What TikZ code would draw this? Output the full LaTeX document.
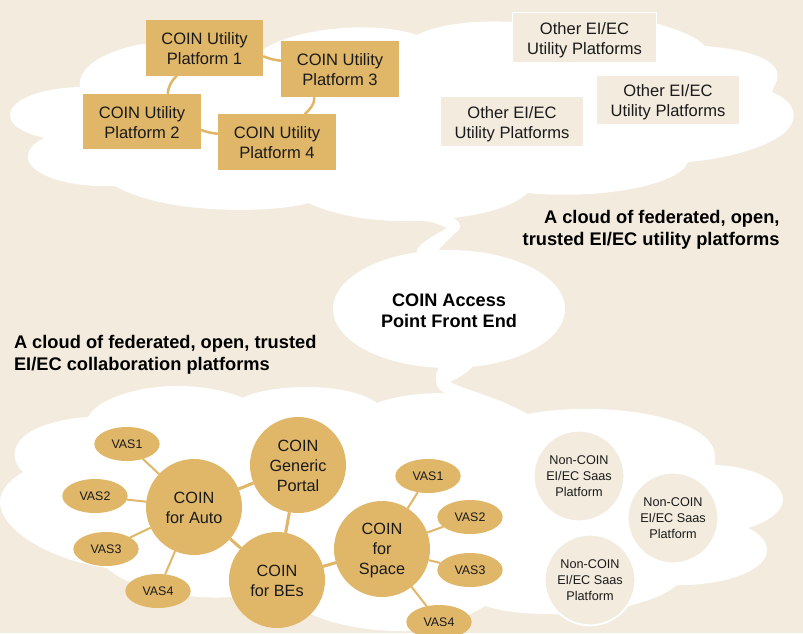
\documentclass[tikz,border=0pt]{standalone}
\usepackage{fontspec}
\setmainfont{Liberation Sans}
\usetikzlibrary{shapes.geometric}
\definecolor{bgbeige}{HTML}{F3ECDE}
\definecolor{gold}{HTML}{E0B768}
\definecolor{ink}{HTML}{1A1A1A}
\newcommand{\lowerA}{\rule{0pt}{.85em}}
\newcommand{\lowerB}{\rule{0pt}{1.02em}}
\tikzset{
  every node/.style={inner sep=0pt,outer sep=0pt,text=ink,align=center},
  coinbox/.style={rectangle,fill=gold,minimum width=88pt,minimum height=41.5pt,font=\fontsize{12.4}{15}\selectfont},
  otherbox/.style={rectangle,fill=bgbeige,draw=white,line width=1.4pt,minimum width=108pt,minimum height=37.5pt,font=\fontsize{12.4}{15}\selectfont},
  hub/.style={circle,fill=gold,minimum size=72pt,font=\fontsize{12.2}{15}\selectfont},
  vas/.style={ellipse,fill=gold,minimum width=49pt,minimum height=25.5pt,font=\fontsize{9.3}{11}\selectfont},
  saas/.style={circle,fill=bgbeige,draw=white,line width=1.4pt,minimum size=68pt,font=\fontsize{9.5}{12}\selectfont},
  heading/.style={font=\fontsize{13.7}{16.5}\selectfont\bfseries,text=black},
  thinlink/.style={draw=gold,line width=1.5pt},
  hublink/.style={draw=gold,line width=2.3pt},
  boxlink/.style={draw=gold,line width=1.9pt}
}
\begin{document}
\begin{tikzpicture}[x=0.75pt,y=-0.75pt]
\fill[bgbeige] (0,0) rectangle (803,633);
\useasboundingbox (0,0) rectangle (803,633);
% upper cloud with its tail
\fill[white] (80,87) .. controls (76,66) and (110,48) .. (150,43) -- (263,50)
 .. controls (285,32) and (365,18) .. (417,35)
 .. controls (440,23) and (480,20) .. (515,22) -- (655,23)
 .. controls (680,30) and (698,38) .. (705,46)
 .. controls (755,50) and (782,62) .. (777,80) -- (772,92)
 .. controls (790,100) and (796,110) .. (793,120)
 .. controls (788,142) and (735,158) .. (688,162)
 .. controls (680,185) and (600,200) .. (528,193)
 .. controls (510,208) and (485,214) .. (453,218)
 .. controls (462,222) and (462,230) .. (455,233) -- (433,255) -- (417,255) -- (417,250)
 .. controls (420,243) and (430,238) .. (447,228)
 .. controls (435,222) and (425,220) .. (413,221)
 .. controls (370,222) and (335,215) .. (308,203)
 .. controls (280,212) and (170,217) .. (115,186)
 .. controls (70,188) and (28,175) .. (28,157)
 .. controls (28,148) and (36,142) .. (44,138)
 .. controls (20,132) and (10,124) .. (10,115)
 .. controls (10,100) and (40,88) .. (80,87) -- cycle;
% lower cloud with its tail
\fill[white] (377,403) .. controls (395,396) and (420,393) .. (445,393)
 .. controls (435,390) and (433,375) .. (440,366) -- (473,366)
 .. controls (468,372) and (460,377) .. (450,382)
 .. controls (462,388) and (480,393) .. (492,398)
 .. controls (505,402) and (518,409) .. (528,414)
 .. controls (600,400) and (712,415) .. (715,455) -- (715,465)
 .. controls (750,466) and (783,480) .. (783,500)
 .. controls (783,512) and (765,523) .. (748,528)
 .. controls (760,533) and (767,542) .. (767,550)
 .. controls (767,572) and (720,586) .. (677,585)
 .. controls (665,595) and (650,600) .. (632,605)
 .. controls (605,614) and (575,616) .. (550,614)
 .. controls (525,614) and (505,612) .. (485,606)
 .. controls (470,615) and (440,632) .. (400,631)
 .. controls (370,631) and (335,625) .. (313,615) -- (230,597)
 .. controls (190,600) and (130,590) .. (107,568)
 .. controls (50,560) and (0,530) .. (0,502)
 .. controls (0,490) and (10,480) .. (23,472)
 .. controls (12,462) and (14,450) .. (17,445)
 .. controls (25,430) and (50,420) .. (88,417)
 .. controls (100,395) and (150,385) .. (180,386)
 .. controls (205,386) and (230,392) .. (243,398)
 .. controls (265,385) and (345,380) .. (377,403) -- cycle;
% access point
\node[ellipse,fill=white,minimum width=174pt,minimum height=88.5pt,font=\fontsize{13.6}{15.8}\selectfont\bfseries,text=black] (access) at (449,309) {\lowerA COIN Access\\Point Front End};
% utility platforms
\node[coinbox] (p1) at (204.5,48) {\lowerA COIN Utility\\Platform 1};
\node[coinbox] (p3) at (340,69) {\lowerA COIN Utility\\Platform 3};
\node[coinbox] (p2) at (142,121.5) {\lowerA COIN Utility\\Platform 2};
\node[coinbox] (p4) at (277,142) {\lowerA COIN Utility\\Platform 4};
\draw[boxlink] (p1.-135) to[out=-135,in=85] (p2.47);
\draw[boxlink] (p1.-8) to[bend right=8] (p3.172);
\draw[boxlink] (p3.-133) to[out=-85,in=45] (p4.45);
\draw[boxlink] (p2.-8) to[bend right=8] (p4.172);
\node[otherbox] (o1) at (584.5,37.5) {\lowerB Other EI/EC\\Utility Platforms};
\node[otherbox] (o2) at (668,100) {\lowerB Other EI/EC\\Utility Platforms};
\node[otherbox] (o3) at (512,121.5) {\lowerB Other EI/EC\\Utility Platforms};
% headings
\node[heading,anchor=east,align=right] (h1) at (779.5,230) {A cloud of federated, open,\\trusted EI/EC utility platforms};
\node[heading,anchor=west,align=left] (h2) at (14,354.5) {A cloud of federated, open, trusted\\EI/EC collaboration platforms};
% hubs
\node[hub] (generic) at (298,465) {\lowerA COIN\\Generic\\Portal};
\node[hub] (auto) at (194,507) {\lowerA COIN\\for Auto};
\node[hub] (bes) at (277,580) {\lowerA COIN\\for BEs};
\node[hub] (space) at (382,549) {\lowerA COIN\\for\\Space};
\node[vas] (a1) at (127,444) {VAS1};
\node[vas] (a2) at (95,496) {VAS2};
\node[vas] (a3) at (106,549) {VAS3};
\node[vas] (a4) at (158,591) {VAS4};
\node[vas] (s1) at (428,476) {VAS1};
\node[vas] (s2) at (470,517) {VAS2};
\node[vas] (s3) at (470,570) {VAS3};
\node[vas] (s4) at (439,622) {VAS4};
\draw[hublink] (auto) -- (generic);
\draw[hublink] (auto) -- (bes);
\draw[hublink] (generic) -- (bes);
\draw[hublink] (bes) -- (space);
\foreach \v in {a1,a2,a3,a4} \draw[thinlink] (auto) -- (\v);
\foreach \v in {s1,s2,s3,s4} \draw[thinlink] (space) -- (\v);
% saas
\node[saas] (n1) at (579,476) {Non-COIN\\EI/EC Saas\\Platform};
\node[saas] (n2) at (673,518) {Non-COIN\\EI/EC Saas\\Platform};
\node[saas] (n3) at (590,580) {Non-COIN\\EI/EC Saas\\Platform};
\end{tikzpicture}
\end{document}
